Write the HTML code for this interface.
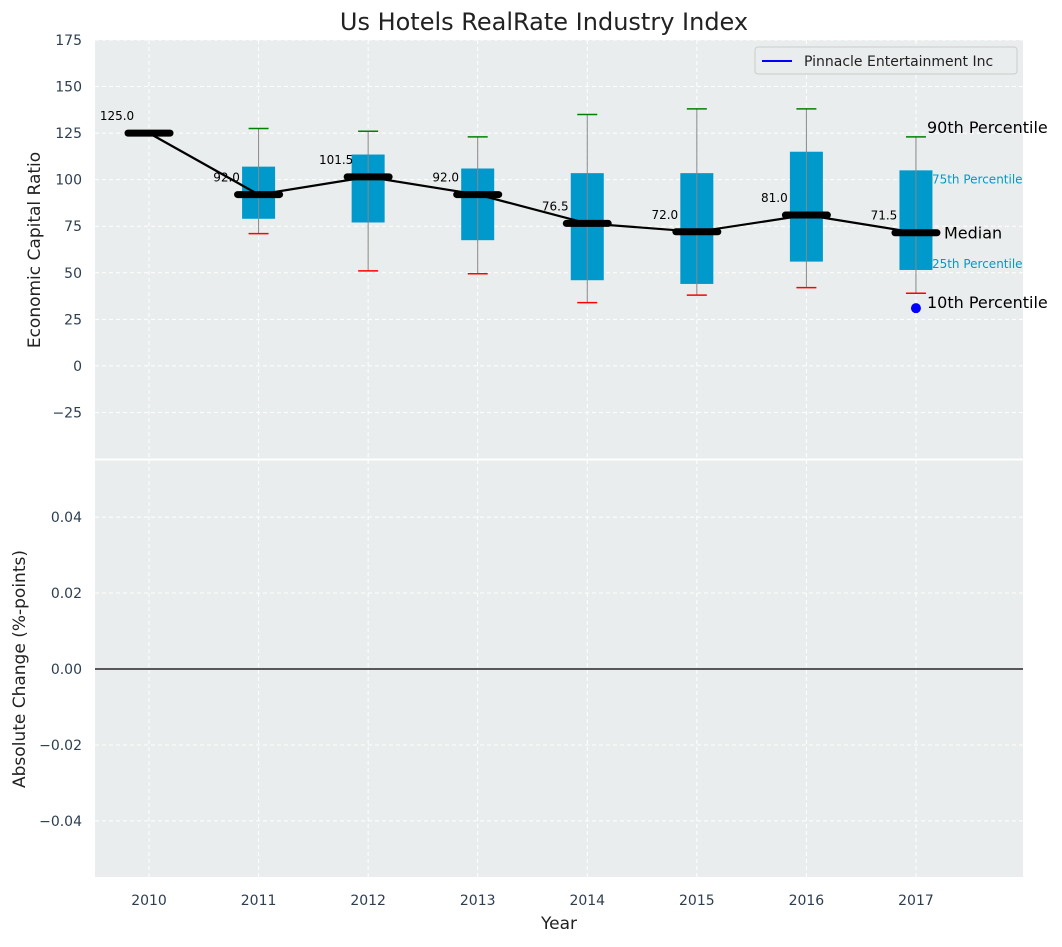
<!DOCTYPE html>
<html><head><meta charset="utf-8"><style>
body{margin:0;background:#fff;font-family:"Liberation Sans","DejaVu Sans",sans-serif}
svg text{font-family:"DejaVu Sans","Liberation Sans",sans-serif}
</style></head><body>
<svg id="c" width="1062" height="942" xmlns="http://www.w3.org/2000/svg"></svg>
<script>
const years=[2010,2011,2012,2013,2014,2015,2016,2017];
const medians=[125,92,101.5,92,76.5,72,81,71.5];
const p25=[null,79,77,67.5,46,44,56,51.5];
const p75=[null,107,113.5,106,103.5,103.5,115,105];
const p10=[null,71,51,49.5,34,38,42,39];
const p90=[null,127.5,126,123,135,138,138,123];
const companyVal=[null,null,null,null,null,null,null,31];
const yTicksTop=[-25,0,25,50,75,100,125,150,175];
const yTicksBot=[-0.04,-0.02,0,0.02,0.04];
const svg=document.getElementById('c');const NS='http://www.w3.org/2000/svg';
function el(t,a,txt){const e=document.createElementNS(NS,t);for(const k in a)e.setAttribute(k,a[k]);if(txt!=null)e.textContent=txt;svg.appendChild(e);return e;}
const L=95,R=1023;
const x=v=>L+(v-2009.507)/(2017.977-2009.507)*(R-L);
const yT=v=>459-(v+50)/225*419;
const yB=v=>669-v/0.0553*210;
let e;
e=el('rect',{x:L,y:40,width:R-L,height:419,fill:'#eaeded'});
e=el('rect',{x:L,y:460,width:R-L,height:417,fill:'#eaeded'});
el('line',{x1:L,x2:R,y1:459.5,y2:459.5,stroke:'#fff','stroke-width':2});
years.forEach(v=>{el('line',{x1:x(v),x2:x(v),y1:40,y2:877,stroke:'#fff','stroke-dasharray':'4,3','stroke-width':1});
 e=el('text',{x:x(v),y:905,'text-anchor':'middle','font-size':14,fill:'#2c3e50'},v);});
yTicksTop.forEach(v=>{el('line',{x1:L,x2:R,y1:yT(v),y2:yT(v),stroke:'#fff','stroke-dasharray':'4,3'});
 e=el('text',{x:82,y:yT(v)+5,'text-anchor':'end','font-size':14,fill:'#2c3e50'},v<0?'\u2212'+(-v):v);});
yTicksBot.forEach(v=>{el('line',{x1:L,x2:R,y1:yB(v),y2:yB(v),stroke:'#fff','stroke-dasharray':'4,3'});
 const s=Math.abs(v).toFixed(2);e=el('text',{x:82,y:yB(v)+5,'text-anchor':'end','font-size':14,fill:'#2c3e50'},v<0?'\u2212'+s:s);});
e=el('line',{x1:L,x2:R,y1:yB(0),y2:yB(0),stroke:'#000','stroke-width':1.2});
years.forEach((yr,i)=>{if(p25[i]==null)return;const cx=x(yr);
 e=el('rect',{x:cx-16.5,y:yT(p75[i]),width:33,height:yT(p25[i])-yT(p75[i]),fill:'#0099cc'});
 e=el('line',{x1:cx,x2:cx,y1:yT(p90[i]),y2:yT(p10[i]),stroke:'#888','stroke-width':1});
 e=el('line',{x1:cx-10,x2:cx+10,y1:yT(p90[i]),y2:yT(p90[i]),stroke:'green','stroke-width':1.5});
 e=el('line',{x1:cx-10,x2:cx+10,y1:yT(p10[i]),y2:yT(p10[i]),stroke:'red','stroke-width':1.5});
});
e=el('polyline',{points:years.map((yr,i)=>x(yr)+','+yT(medians[i])).join(' '),fill:'none',stroke:'#000','stroke-width':2.2});
years.forEach((yr,i)=>{const cx=x(yr);
 e=el('line',{x1:cx-21,x2:cx+21,y1:yT(medians[i]),y2:yT(medians[i]),stroke:'#000','stroke-width':7,'stroke-linecap':'round'});
 e=el('text',{x:cx-32,y:yT(medians[i])-13,'text-anchor':'middle','font-size':12,fill:'#000'},medians[i].toFixed(1));
 if(companyVal[i]!=null){e=el('circle',{cx:cx,cy:yT(companyVal[i]),r:5,fill:'blue'});}
});
const li=years.length-1,lx=x(years[li]);
[['90th Percentile',lx+11,yT(p90[li])-4,16,'#000'],['75th Percentile',lx+16,yT(p75[li])+13,12,'#0099cc'],['Median',lx+28,yT(medians[li])+6,16,'#000'],['25th Percentile',lx+16,yT(p25[li])-2,12,'#0099cc'],['10th Percentile',lx+11,yT(companyVal[li])+0,16,'#000']].forEach(a=>{e=el('text',{x:a[1],y:a[2],'font-size':a[3],fill:a[4]},a[0]);});
e=el('rect',{x:755,y:47,width:262,height:27,fill:'#eaeded',stroke:'#ccc',rx:3});
el('line',{x1:762,x2:792,y1:61,y2:61,stroke:'blue','stroke-width':2});
e=el('text',{x:804,y:66,'font-size':14,fill:'#222'},'Pinnacle Entertainment Inc');
e=el('text',{x:544,y:30,'text-anchor':'middle','font-size':24,fill:'#222'},'Us Hotels RealRate Industry Index');
e=el('text',{x:559,y:929,'text-anchor':'middle','font-size':17,fill:'#222'},'Year');
e=el('text',{x:40,y:250,'text-anchor':'middle','font-size':17,fill:'#222',transform:'rotate(-90 40 250)'},'Economic Capital Ratio');
e=el('text',{x:25,y:669,'text-anchor':'middle','font-size':17,fill:'#222',transform:'rotate(-90 25 669)'},'Absolute Change (%-points)');
</script>
</body></html>
